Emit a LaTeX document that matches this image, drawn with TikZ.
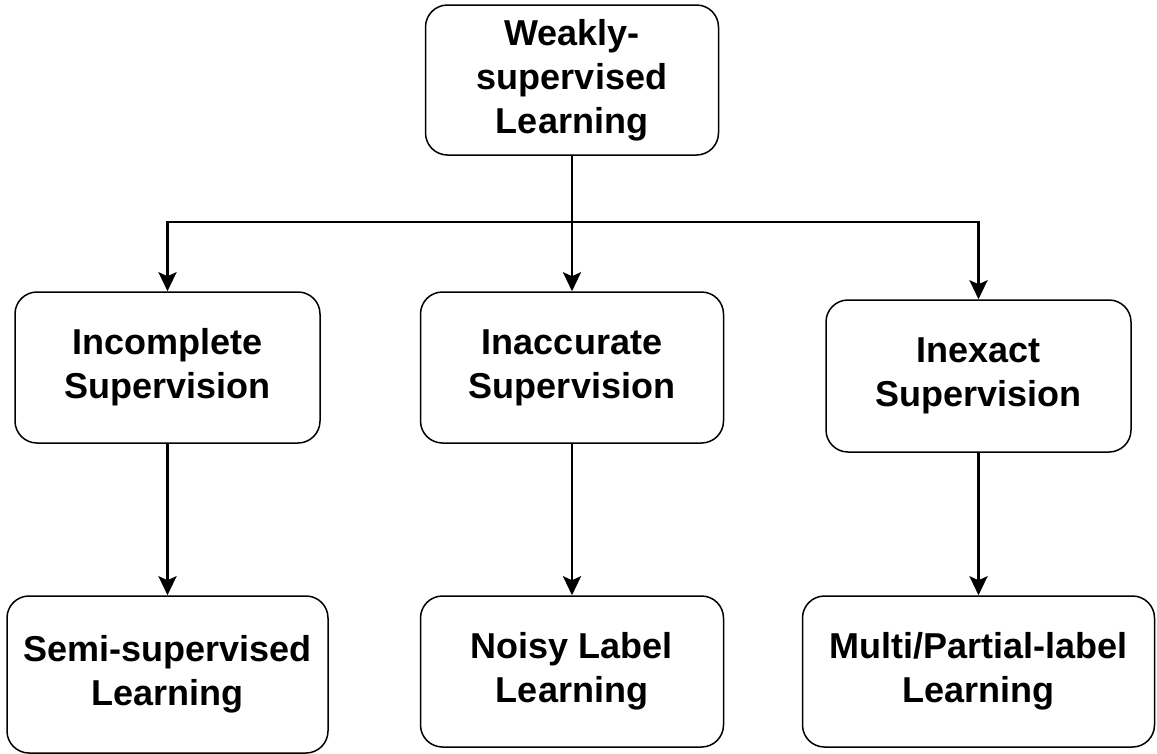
\documentclass[tikz,border=0pt]{standalone}
\usepackage{fontspec}
\setmainfont{Liberation Sans}
\usetikzlibrary{arrows.meta}
\begin{document}
\begin{tikzpicture}[x=1pt,y=-1pt,
  box/.style={draw=black, line width=1.5pt, rounded corners=22pt, fill=white,
    align=center, inner sep=0pt,
    font=\fontsize{36}{44}\selectfont\bfseries},
  conn/.style={draw=black, line width=2.8pt,
    -{Stealth[length=19pt, width=18pt, inset=4pt]}},
  link/.style={draw=black, line width=2.8pt}]
\useasboundingbox (0,0) rectangle (1157,753);
\fill[white] (0,0) rectangle (1157,753);

% root
\node[box, minimum width=293pt, minimum height=150pt] (top) at (572,80)
  {Weakly-\\supervised\\Learning};

% second level: kinds of weak supervision
\node[box, minimum width=305pt, minimum height=151pt] (midL) at (167.5,367.5)
  {Incomplete\\Supervision};
\node[box, minimum width=303pt, minimum height=151pt] (midC) at (572,367.5)
  {Inaccurate\\Supervision};
\node[box, minimum width=305pt, minimum height=152pt] (midR) at (978.5,376)
  {Inexact\\Supervision};

% third level: learning settings
\node[box, minimum width=321pt, minimum height=157pt] (botL) at (167.5,674.5)
  {Semi-supervised\\Learning};
\node[box, minimum width=303pt, minimum height=151pt] (botC) at (572,671.5)
  {Noisy Label\\Learning};
\node[box, minimum width=352pt, minimum height=151pt] (botR) at (978.5,671.5)
  {Multi/Partial-label\\Learning};

% connectors
\coordinate (bus) at (572,222);
\draw[link] (top.south) -- (bus);
\draw[conn] (bus) -| (midL.north);
\draw[conn] (bus) -| (midR.north);
\draw[conn] (bus) -- (midC.north);
\draw[conn] (midL.south) -- (botL.north);
\draw[conn] (midC.south) -- (botC.north);
\draw[conn] (midR.south) -- (botR.north);
\end{tikzpicture}
\end{document}
